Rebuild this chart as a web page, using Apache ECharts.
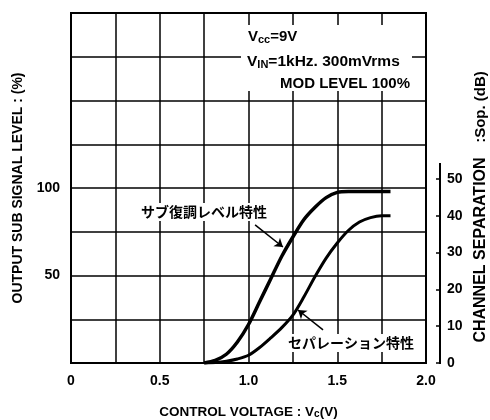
<!DOCTYPE html>
<html>
<head>
<meta charset="utf-8">
<script src="https://cdn.jsdelivr.net/npm/echarts@6/dist/echarts.min.js"></script>
<style>
  html, body { margin: 0; padding: 0; background: #fff; }
  #chart { width: 490px; height: 420px; }
</style>
</head>
<body>
<div id="chart"></div>
<script>
// control voltage Vc (V) vs output sub level (%) / channel separation (dB)
var subLevel = [
  [0.75, 0], [0.8125, 1.5], [0.875, 5], [0.9375, 12], [1.0, 22], [1.0625, 35],
  [1.125, 48], [1.1875, 61], [1.25, 72], [1.3125, 82], [1.375, 89], [1.4375, 94.5],
  [1.5, 97.5], [1.5625, 98], [1.8, 98]
]
var separation = [
  [0.75, 0], [0.8125, 0.15], [0.875, 0.5], [0.9375, 1.1], [1.0, 2.1], [1.0625, 4.2],
  [1.125, 6.8], [1.1875, 9.6], [1.25, 13], [1.3125, 18], [1.375, 23.5], [1.4375, 28.5],
  [1.5, 32.6], [1.5625, 36], [1.625, 38.3], [1.6875, 39.5], [1.75, 40], [1.8, 40]
]
var xLabels = ['0', '0.5', '1.0', '1.5', '2.0']
var leftLabels = [50, 100]
var rightLabels = [0, 10, 20, 30, 40, 50]
// arrow [tail, tip] in data coords
var arrowSub = [[1.037, 78.9], [1.194, 66.3]]
var arrowSep = [[1.42, 9.0], [1.279, 14.4]]

var font = "'Liberation Sans Narrow', Arial, sans-serif"
var jpFont = "'Noto Sans CJK JP', sans-serif"

var chart = echarts.init(document.getElementById('chart'))

function arrowLine(pts) {
  return {
    silent: true,
    symbol: ['none', 'arrow'],
    symbolSize: 8,
    label: { show: false },
    lineStyle: { color: '#000', width: 1.5, type: 'solid' },
    data: [[{ coord: pts[0] }, { coord: pts[1] }]]
  }
}

chart.setOption({
  backgroundColor: '#fff',
  animation: false,
  grid: {
    left: 71, right: 64, top: 13, bottom: 57,
    outerBoundsMode: 'none',
    containLabel: false,
    show: true, borderColor: '#000', borderWidth: 2, backgroundColor: 'transparent'
  },
  xAxis: {
    type: 'value',
    min: 0,
    max: 2,
    interval: 0.25,
    name: 'CONTROL VOLTAGE : V{s|c}(V)',
    nameLocation: 'middle',
    nameGap: 42,
    nameTextStyle: {
      color: '#000', fontFamily: font, fontSize: 13.5, fontWeight: 'bold',
      rich: { s: { fontSize: 10, fontFamily: font, fontWeight: 'bold', color: '#000', verticalAlign: 'bottom', padding: [4, 0, 0, 0] } }
    },
    axisLine: { show: true, lineStyle: { color: '#000', width: 2 } },
    axisTick: { show: false },
    splitLine: { show: true, lineStyle: { color: '#000', width: 1.5 } },
    axisLabel: {
      color: '#000', fontFamily: font, fontWeight: 'bold', fontSize: 14, margin: 11,
      formatter: function (v) {
        var i = Math.round(v / 0.5)
        return Math.abs(v - i * 0.5) < 1e-6 ? xLabels[i] : ''
      }
    }
  },
  yAxis: [{
    type: 'value',
    min: 0,
    max: 200,
    interval: 25,
    name: 'OUTPUT SUB SIGNAL LEVEL : (%)',
    nameLocation: 'middle',
    nameGap: 46,
    nameTextStyle: { color: '#000', fontFamily: font, fontSize: 14, fontWeight: 'bold' },
    axisLine: { show: true, lineStyle: { color: '#000', width: 2 } },
    axisTick: { show: false },
    splitLine: { show: true, lineStyle: { color: '#000', width: 1.5 } },
    axisLabel: {
      color: '#000', fontFamily: font, fontWeight: 'bold', fontSize: 14, margin: 11,
      formatter: function (v) { return leftLabels.indexOf(v) >= 0 ? String(v) : '' }
    }
  }, {
    type: 'value',
    position: 'right',
    offset: 14,
    min: 0,
    max: 95.1,
    axisLine: { show: false },
    axisTick: { show: true, inside: true, length: 4, customValues: rightLabels, lineStyle: { color: '#000', width: 1.5 } },
    splitLine: { show: false },
    axisLabel: {
      color: '#000', fontFamily: font, fontWeight: 'bold', fontSize: 14, margin: 7,
      customValues: rightLabels
    }
  }],
  graphic: [
    // right-hand dB scale only spans 0..54 dB
    { type: 'line', z: 5, shape: { x1: 440, y1: 163, x2: 440, y2: 364 }, style: { stroke: '#000', lineWidth: 2 } },
    { type: 'rect', z: 10, shape: { x: 241, y: 25, width: 171, height: 66 }, style: { fill: '#fff' } },
    {
      type: 'text', z: 11, x: 248, y: 37,
      style: {
        text: 'V{s|cc}=9V', fill: '#000', font: 'bold 15px ' + font, verticalAlign: 'middle',
        rich: { s: { fontSize: 11, fontFamily: font, fontWeight: 'bold', fill: '#000', verticalAlign: 'bottom', padding: [5, 0, 0, 0] } }
      }
    },
    {
      type: 'text', z: 11, x: 247, y: 62,
      style: {
        text: 'V{s|IN}=1kHz. 300mVrms', fill: '#000', font: 'bold 15.5px ' + font, verticalAlign: 'middle',
        rich: { s: { fontSize: 11, fontFamily: font, fontWeight: 'bold', fill: '#000', verticalAlign: 'bottom', padding: [5, 0, 0, 0] } }
      }
    },
    {
      type: 'text', z: 11, x: 410, y: 84,
      style: { text: 'MOD LEVEL 100%', fill: '#000', font: 'bold 15px ' + font, align: 'right', verticalAlign: 'middle' }
    },
    {
      type: 'text', z: 11, x: 204, y: 212,
      style: {
        text: 'サブ復調レベル特性', fill: '#000', font: 'bold 14px ' + jpFont,
        align: 'center', verticalAlign: 'middle', backgroundColor: '#fff', padding: [2, 3]
      }
    },
    {
      type: 'text', z: 11, x: 351, y: 343,
      style: {
        text: 'セパレーション特性', fill: '#000', font: 'bold 14px ' + jpFont,
        align: 'center', verticalAlign: 'middle', backgroundColor: '#fff', padding: [2, 3]
      }
    },
    {
      type: 'text', z: 11, x: 481, y: 250, rotation: Math.PI / 2,
      style: { text: 'CHANNEL SEPARATION', fill: '#000', font: 'bold 16px ' + font, align: 'center', verticalAlign: 'middle' }
    },
    {
      type: 'text', z: 11, x: 481, y: 107, rotation: Math.PI / 2,
      style: { text: ':Sop. (dB)', fill: '#000', font: 'bold 15px ' + font, align: 'center', verticalAlign: 'middle' }
    }
  ],
  series: [{
    name: 'sub',
    type: 'line',
    yAxisIndex: 0,
    data: subLevel,
    smooth: 0.3,
    showSymbol: false,
    lineStyle: { color: '#000', width: 3.5 },
    markLine: arrowLine(arrowSub)
  }, {
    name: 'sep',
    type: 'line',
    yAxisIndex: 1,
    data: separation,
    smooth: 0.3,
    showSymbol: false,
    lineStyle: { color: '#000', width: 3 },
    markLine: arrowLine(arrowSep)
  }]
})
</script>
</body>
</html>
